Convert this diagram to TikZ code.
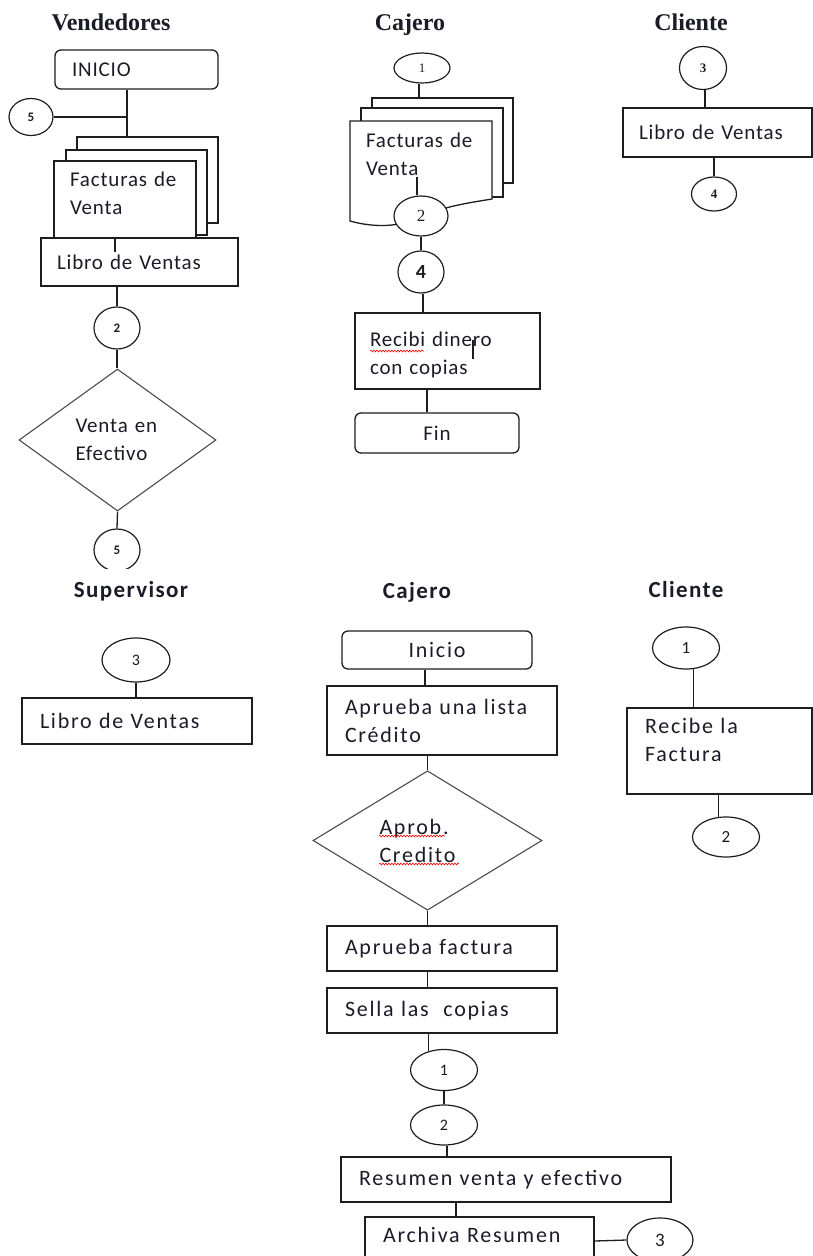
\documentclass[tikz,border=0pt]{standalone}
\usepackage{fontspec}
\setmainfont{Carlito}
\newfontfamily\hserif{Liberation Serif}
\newfontfamily\bodytop[LetterSpace=4,WordSpace=0.6]{Carlito}
\newfontfamily\bodybot[LetterSpace=8,WordSpace=0.5]{Carlito}
\newfontfamily\headbot[LetterSpace=6]{Carlito}
\usetikzlibrary{shapes.geometric,decorations.pathmorphing}
\definecolor{ink}{RGB}{28,28,40}
\definecolor{edge}{RGB}{30,30,30}
\newcommand{\lifted}[2]{\raisebox{#1}[\height][\depth]{\begin{tabular}{@{}l@{}}#2\end{tabular}}}
\begin{document}
\begin{tikzpicture}[x=1pt,y=-1pt,
  every node/.style={text=ink},
  ln/.style={draw=edge,line width=1.3pt},
  box/.style={draw=edge,line width=1.3pt,rectangle,fill=white,inner sep=0pt,align=left},
  rbox/.style={box,rounded corners=6pt},
  conn/.style={ellipse,draw=edge,line width=1.2pt,fill=white,inner sep=0pt},
  dia/.style={diamond,draw=black!70,line width=1.1pt,fill=white,inner sep=0pt,align=left},
  ftop/.style={font=\bodytop\fontsize{21}{28}\selectfont},
  fbot/.style={font=\bodybot\fontsize{22}{28}\selectfont},
  htop/.style={font=\hserif\bfseries\fontsize{24}{26}\selectfont},
  hbot/.style={font=\headbot\bfseries\fontsize{23}{25}\selectfont},
  spell/.style={draw=red,line width=0.6pt,decorate,decoration={snake,amplitude=0.9pt,segment length=3pt}}
]
\useasboundingbox (0,0) rectangle (813,1256);
\fill[white] (0,0) rectangle (813,1256);

% ===================== Vendedores =====================
\node[htop] (hV) at (111,22) {Vendedores};
\node[rbox,ftop,minimum width=163pt,minimum height=39pt,text width=129pt] (iniV) at (136.5,69.5) {INICIO};
\node[conn,minimum width=44pt,minimum height=37pt,font=\bfseries\fontsize{13}{15}\selectfont] (c5a) at (31,117) {5};
\coordinate (jV) at (127,117);
\node[box,minimum width=141pt,minimum height=86pt] (docVb) at (147.5,180) {};
\node[box,minimum width=141pt,minimum height=85pt] (docVm) at (136.5,192.5) {};
\node[box,ftop,minimum width=142pt,minimum height=79pt,text width=110pt] (docVf) at (125,200.5) {\lifted{6pt}{Facturas de\\Venta}};
\node[box,ftop,minimum width=197pt,minimum height=48pt,text width=165pt] (lbV) at (139.5,262) {Libro de Ventas};
\node[conn,minimum width=46pt,minimum height=42pt,font=\bfseries\fontsize{13}{15}\selectfont] (c2V) at (117,328) {2};
\node[dia,ftop,minimum width=197pt,minimum height=142pt,text width=84pt] (dV) at (117.5,440) {Venta en\\Efectivo};
\begin{scope}
  \clip (0,500) rectangle (260,568);
  \node[conn,minimum width=46pt,minimum height=42pt,font=\bfseries\fontsize{13}{15}\selectfont] (c5b) at (117,550) {5};
\end{scope}
\draw[ln] (iniV.south -| jV) -- (jV) -- (docVb.north -| jV);
\draw[ln] (c5a.east) -- (jV);
\draw[ln] (lbV.north -| 115,0) -- ++(0,15);
\draw[ln] (c2V.north |- lbV.south) -- (c2V.north);
\draw[ln] (c2V.south) -- (c2V.south |- dV.north);
\draw[ln] (dV.south) -- (c5b.north);

% ===================== Cajero (top) =====================
\node[htop] (hC1) at (410,25) {Cajero};
\node[conn,minimum width=56pt,minimum height=30pt,font=\hserif\fontsize{13}{15}\selectfont] (c1C) at (422,68) {1};
\node[box,minimum width=141pt,minimum height=85pt] (docCb) at (442.5,140.5) {};
\node[box,minimum width=142pt,minimum height=89pt] (docCm) at (432,152.5) {};
\draw[ln,fill=white] (350,121) -- (492,121) -- (492,199)
   .. controls (468,203) and (445,206) .. (421,217)
   .. controls (400,227) and (375,228) .. (350,221) -- cycle;
\node[ftop,inner sep=0pt,minimum width=142pt,minimum height=66pt,text width=110pt,align=left] (docCf) at (421,154) {Facturas de\\Venta};
\node[conn,minimum width=54pt,minimum height=40pt,font=\hserif\fontsize{17}{19}\selectfont] (c2C) at (421,216) {2};
\draw[ln] ([xshift=-4pt]c2C.north) -- ++(0,-18);
\node[conn,minimum width=46pt,minimum height=42pt,font=\bfseries\fontsize{20}{22}\selectfont] (c4C) at (421,272) {4};
\node[box,ftop,minimum width=185pt,minimum height=76pt,text width=155pt] (rcb) at (447.5,351) {\lifted{-4pt}{Recibi dinero\\con copias}};
\draw[ln] (473,340) -- (473,359);
\draw[spell] (370,351) -- (424,351);
\node[rbox,ftop,minimum width=164pt,minimum height=40pt,align=center] (finC) at (437,433) {Fin};
\draw[ln] ([xshift=-3pt]c1C.south) -- ([xshift=-3pt]c1C.south |- docCb.north);
\draw[ln] (c2C.south) -- (c4C.north);
\draw[ln] ([xshift=2pt]c4C.south) -- ([xshift=2pt]c4C.south |- rcb.north);
\draw[ln] ([xshift=-10pt]finC.north |- rcb.south) -- ([xshift=-10pt]finC.north);

% ===================== Cliente (top) =====================
\node[htop] (hCl1) at (691,22) {Cliente};
\node[conn,minimum width=47pt,minimum height=43pt,font=\hserif\bfseries\fontsize{13}{15}\selectfont] (c3T) at (703,68) {3};
\node[box,ftop,minimum width=189pt,minimum height=49pt,text width=157pt] (lbCl) at (717.5,132.5) {Libro de Ventas};
\node[conn,minimum width=45pt,minimum height=34pt,font=\hserif\bfseries\fontsize{13}{15}\selectfont] (c4T) at (714,194) {4};
\draw[ln] ([xshift=2pt]c3T.south) -- ([xshift=2pt]c3T.south |- lbCl.north);
\draw[ln] (c4T.north |- lbCl.south) -- (c4T.north);

% ===================== Supervisor =====================
\node[hbot] (hS) at (131,591) {Supervisor};
\node[conn,minimum width=68pt,minimum height=44pt,font=\bodybot\fontsize{16}{18}\selectfont] (c3S) at (136,660) {3};
\node[box,fbot,minimum width=230pt,minimum height=46pt,text width=194pt] (lbS) at (137,721) {Libro de Ventas};
\draw[ln] (c3S.south) -- (c3S.south |- lbS.north);

% ===================== Cajero (bottom) =====================
\node[hbot] (hC2) at (417,592) {Cajero};
\node[rbox,fbot,minimum width=190pt,minimum height=38pt,align=center] (iniB) at (437,650) {Inicio};
\node[box,fbot,minimum width=230pt,minimum height=69pt,text width=194pt] (apL) at (442,720.5) {Aprueba una lista\\Crédito};
\node[dia,fbot,minimum width=229pt,minimum height=135pt,text width=96pt] (dB) at (427.5,840.5) {Aprob.\\Credito};
\draw[spell] (379,836) -- (445,836);
\draw[spell] (379,864) -- (459,864);
\node[box,fbot,minimum width=230pt,minimum height=45pt,text width=194pt] (apF) at (442,948.5) {Aprueba factura};
\node[box,fbot,minimum width=230pt,minimum height=45pt,text width=194pt] (sel) at (442,1010.5) {Sella las \ copias};
\node[conn,minimum width=67pt,minimum height=41pt,font=\bodybot\fontsize{16}{18}\selectfont] (c1B) at (444,1070) {1};
\node[conn,minimum width=67pt,minimum height=40pt,font=\bodybot\fontsize{16}{18}\selectfont] (c2B) at (444,1125) {2};
\node[box,fbot,minimum width=330pt,minimum height=45pt,text width=294pt] (res) at (506,1179.5) {Resumen venta y efectivo};
\node[box,fbot,minimum width=229pt,minimum height=48pt,text width=193pt] (arc) at (479.5,1241) {\lifted{4pt}{Archiva Resumen}};
\node[conn,minimum width=66pt,minimum height=44pt,font=\bodybot\fontsize{19}{21}\selectfont] (c3B) at (660,1240) {3};
\draw[ln] ([xshift=-12pt]iniB.south) -- ([xshift=-12pt]iniB.south |- apL.north);
\draw[ln] (dB.north |- apL.south) -- (dB.north);
\draw[ln] (dB.south) -- (dB.south |- apF.north);
\draw[ln] (dB.south |- apF.south) -- (dB.south |- sel.north);
\draw[ln] (c1B.129 |- sel.south) -- (c1B.129);
\draw[ln] (c1B.south) -- (c2B.north);
\draw[ln] ([xshift=3pt]c2B.south) -- ([xshift=3pt]c2B.south |- res.north);
\draw[ln] ([xshift=-23.5pt]arc.north |- res.south) -- ([xshift=-23.5pt]arc.north);
\draw[ln] (arc.east) -- (c3B.west);

% ===================== Cliente (bottom) =====================
\node[hbot] (hCl2) at (686,590) {Cliente};
\node[conn,minimum width=67pt,minimum height=42pt,font=\bodybot\fontsize{17}{19}\selectfont] (c1Cl) at (686,648) {1};
\node[box,fbot,minimum width=185pt,minimum height=86pt,text width=149pt] (rcf) at (719.5,751) {\lifted{9pt}{Recibe la\\Factura}};
\node[conn,minimum width=67pt,minimum height=40pt,font=\bodybot\fontsize{17}{19}\selectfont] (c2Cl) at (726,837) {2};
\draw[ln] (c1Cl.-70) -- (c1Cl.-70 |- rcf.north);
\draw[ln] (c2Cl.110 |- rcf.south) -- (c2Cl.110);
\end{tikzpicture}
\end{document}
